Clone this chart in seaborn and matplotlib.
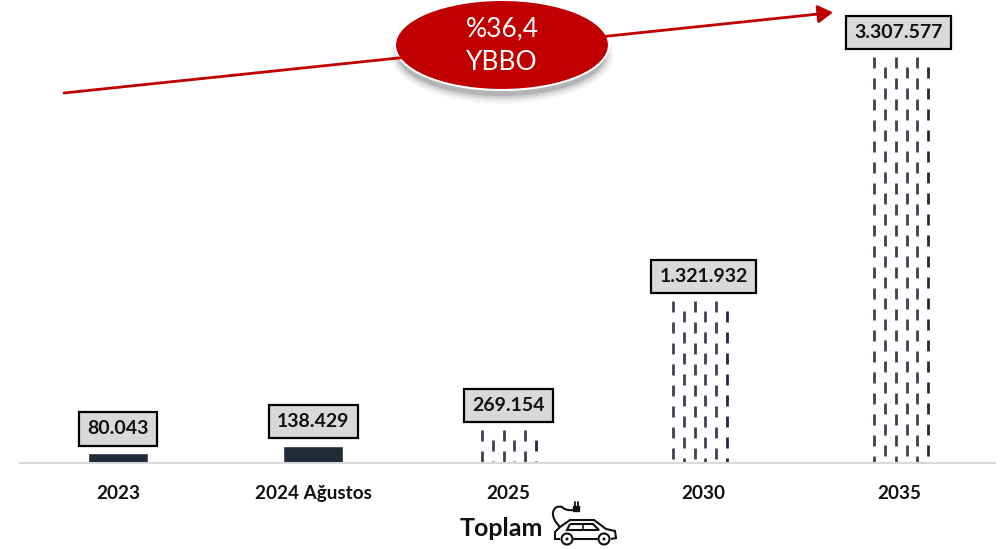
# Electric vehicle stock chart, 2023 - 2035
import pandas as pd
import matplotlib
matplotlib.use('Agg')
import matplotlib.pyplot as plt
from matplotlib.patches import Ellipse, Circle, PathPatch
from matplotlib.path import Path
import seaborn as sns

years = ['2023', '2024 Ağustos', '2025', '2030', '2035']
totals = [80043, 138429, 269154, 1321932, 3307577]
value_labels = ['80.043', '138.429', '269.154', '1.321.932', '3.307.577']
forecast = [False, False, True, True, True]
cagr_lines = ['%36,4', 'YBBO']
axis_title = 'Toplam'

DARK = '#222b3a'
DASH = '#3c4350'
RED = '#c00000'

sns.set_theme(style='white')
plt.rcParams['font.family'] = ['Lato', 'DejaVu Sans']

df = pd.DataFrame({'Year': years, 'Total': totals})
W, H = 1007, 549
fig = plt.figure(figsize=(W / 100, H / 100), dpi=100)

# plot area: baseline at y=463px, spans x 20-995px
ax = fig.add_axes([20 / W, (H - 463) / H, 975 / W, 463 / H])
colors = ['white' if f else DARK for f in forecast]
sns.barplot(x='Year', y='Total', data=df, hue='Year', palette=colors, legend=False,
            width=0.31, saturation=1, ax=ax)
ax.set_xlim(-0.502, 4.493)
ax.set_ylim(0, 3307577 * 463 / 406)
ax.set_xlabel('')
ax.set_ylabel('')
ax.set_yticks([])
ax.patch.set_alpha(0)
sns.despine(ax=ax, left=True)
ax.spines['bottom'].set_color('#d9d9d9')
ax.spines['bottom'].set_linewidth(1.5)
ax.tick_params(axis='x', length=0, pad=16)
for t in ax.get_xticklabels():
    t.set_fontsize(13.6)
    t.set_fontweight('bold')
    t.set_color('#111111')

# dashed fill for the forecast bars (dash pattern is in units of line width)
lw = 2.0
on, off = 11 * 0.72 / lw, 10 * 0.72 / lw
hatch_shift = [0, 0, 0.006, -0.015, 0.015]
for bar, f, label, shift in zip(ax.patches, forecast, value_labels, hatch_shift):
    top = bar.get_height()
    left = bar.get_x()
    if f:
        bar.set_edgecolor('none')
        for i in range(6):
            x = left + 0.0154 + shift + i * 0.0548
            offset = 0 if i % 2 == 0 else on
            col = DARK if i == 5 else DASH
            ax.plot([x, x], [top, 0], color=col, lw=lw, dash_capstyle='butt',
                    linestyle=(offset, (on, off)))
    ax.annotate(label, (left + bar.get_width() / 2, top), xytext=(0, 17.5),
                textcoords='offset points', ha='center', va='center',
                fontsize=14, fontweight='bold', color='#111111',
                bbox=dict(boxstyle='square,pad=0.42', fc='#d9d9d9', ec='black', lw=1.6))

# overlay in pixel coordinates for the arrow, ellipse and car
ov = fig.add_axes([0, 0, 1, 1])
ov.set_xlim(0, W)
ov.set_ylim(H, 0)
ov.axis('off')
ov.annotate('', xy=(833, 12.5), xytext=(64, 93),
            arrowprops=dict(arrowstyle='-|>,head_length=0.75,head_width=0.45',
                            color=RED, lw=2.0, shrinkA=0, shrinkB=0))

# soft shadow below the ellipse
for grow, alpha in [(16, 0.03), (12, 0.04), (8, 0.06), (4, 0.08), (0, 0.12)]:
    ov.add_patch(Ellipse((502, 54), 208 + grow, 84 + grow, fc='black', ec='none', alpha=alpha))
ov.add_patch(Ellipse((502, 45), 214, 90, fc=RED, ec='white', lw=1.5))
ov.text(502, 29, cagr_lines[0], color='white', fontsize=19, ha='center', va='center')
ov.text(502, 62, cagr_lines[1], color='white', fontsize=19, ha='center', va='center')

ov.text(501, 528, axis_title, color='#111111', fontsize=18, fontweight='bold',
        ha='center', va='center')

# car icon with charging cable
ink = dict(fc='none', ec='#111111', lw=1.5)
M, L, C = Path.MOVETO, Path.LINETO, Path.CURVE3
body = [(560, 539), (555, 539), (555, 532), (560, 527), (570, 520), (594, 520), (606, 529),
        (615, 531), (616, 538), (611, 539)]
ov.add_patch(PathPatch(Path(body), **ink))
ov.plot([574, 597], [539, 539], color='#111111', lw=1.5)
ov.add_patch(PathPatch(Path([(570, 524), (593, 524), (599, 530), (567, 530), (570, 524)]), **ink))
ov.plot([583, 583], [524, 530], color='#111111', lw=1.2)
for cx in [567, 604]:
    ov.add_patch(Circle((cx, 539), 5.5, **ink))
    ov.add_patch(Circle((cx, 539), 1.5, fc='#111111', ec='none'))
cable = Path([(560, 527), (552, 519), (553, 512), (555, 505), (562, 507), (566, 511), (573, 510)],
             [M, C, C, C, C, C, C])
ov.add_patch(PathPatch(cable, **ink))
ov.add_patch(PathPatch(Path([(573, 506), (579, 506), (579, 511), (573, 511), (573, 506)]),
                       fc='#111111', ec='#111111', lw=1))
ov.plot([574.5, 574.5], [502, 506], color='#111111', lw=1.3)
ov.plot([577.5, 577.5], [502, 506], color='#111111', lw=1.3)

plt.savefig('out.png', dpi=100)
